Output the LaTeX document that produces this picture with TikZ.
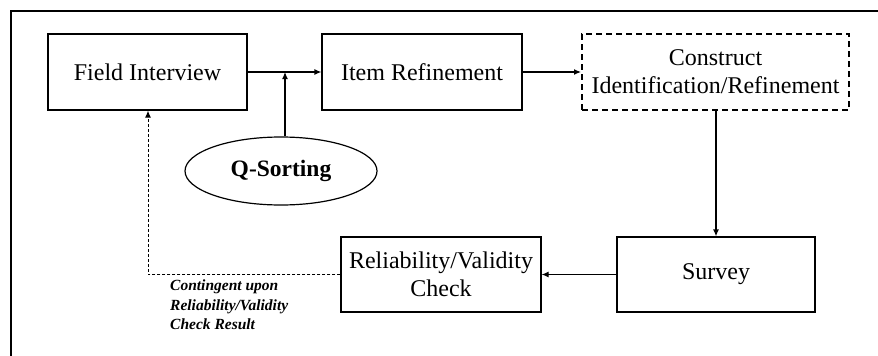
\documentclass[tikz,border=0pt]{standalone}
\usepackage{fontspec}
\setmainfont{Liberation Serif}
\usetikzlibrary{arrows.meta,shapes.geometric}
\begin{document}
\begin{tikzpicture}[x=1pt,y=-1pt,
  box/.style={draw,line width=1.2pt,minimum width=#1,inner sep=0pt,align=center,font=\fontsize{24}{28}\selectfont},
  conn/.style={line width=1.2pt,-{Latex[length=7pt,width=6pt]}},
  fb/.style={line width=1pt,dash pattern=on 3pt off 2pt,-{Latex[length=7pt,width=6pt]}}]
\useasboundingbox (0,0) rectangle (878,356);
\draw[line width=2pt] (11,357) -- (11,11) -- (879,11);
\node[box=199pt,minimum height=76pt] (fi) at (147.5,72) {Field Interview};
\node[box=200pt,minimum height=76pt] (ir) at (422,72) {Item Refinement};
\node[box=267pt,minimum height=76pt,line width=2pt,dash pattern=on 6pt off 4pt] (ci) at (715.5,72) {Construct\\Identification/Refinement};
\node[box=198pt,minimum height=75pt] (sv) at (716,274.5) {Survey};
\node[box=200pt,minimum height=75pt] (rv) at (441,274.5) {Reliability/Validity\\Check};
\node[draw,ellipse,line width=1.2pt,minimum width=192pt,minimum height=68pt,inner sep=0pt,font=\fontsize{23.5}{27}\selectfont\bfseries] (qs) at (281,171) {Q-Sorting};
\coordinate (j) at (285,72);
\coordinate (c) at (148,274.5);
\draw[conn] (fi.east) -- (ir.west);
\draw[conn] (qs.north -| j) -- (j);
\draw[conn] (ir.east) -- (ci.west);
\draw[conn] (ci.south -| sv.north) -- (sv.north);
\draw[conn] (sv.west) -- (rv.east);
\draw[fb] (rv.west) -- (c) -- (c |- fi.south);
\node[anchor=north west,inner sep=0pt,align=left,font=\fontsize{15.5}{19.5}\selectfont\bfseries\itshape] (lab) at (170,280) {Contingent upon\\Reliability/Validity\\Check Result};
\end{tikzpicture}
\end{document}
